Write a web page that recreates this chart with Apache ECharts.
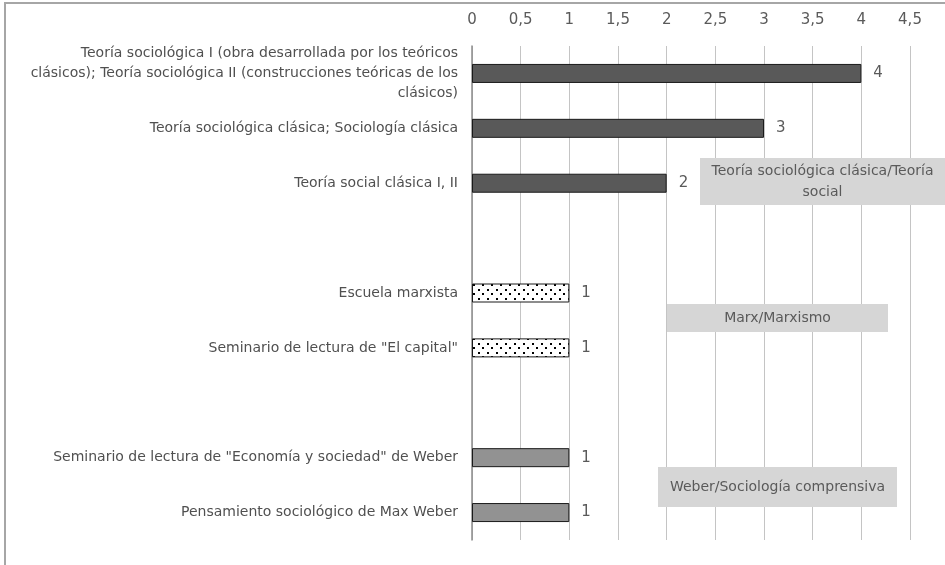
<!DOCTYPE html>
<html>
<head>
<meta charset="utf-8">
<script src="https://cdn.jsdelivr.net/npm/echarts@6/dist/echarts.min.js"></script>
<style>
  html, body { margin: 0; padding: 0; background: #fff; }
  #chart { width: 945px; height: 565px; }
</style>
</head>
<body>
<div id="chart"></div>
<script>
// Courses by thematic block (number of courses)
const categories = [
  'Teoría sociológica I (obra desarrollada por los teóricos\nclásicos); Teoría sociológica II (construcciones teóricas de los\nclásicos)',
  'Teoría sociológica clásica; Sociología clásica',
  'Teoría social clásica I, II',
  ' ',
  'Escuela marxista',
  'Seminario de lectura de "El capital"',
  '  ',
  'Seminario de lectura de "Economía y sociedad" de Weber',
  'Pensamiento sociológico de Max Weber'
];
const classicValues = [4, 3, 2, null, null, null, null, null, null];
const marxValues    = [null, null, null, null, 1, 1, null, null, null];
const weberValues   = [null, null, null, null, null, null, null, 1, 1];
const groupLabels = [
  'Teoría sociológica clásica/Teoría\nsocial',
  'Marx/Marxismo',
  'Weber/Sociología comprensiva'
];
const axisMin = 0, axisMax = 4.5, axisStep = 0.5;

const FONT = '"DejaVu Sans", sans-serif';
const TXT = '#5a5a5a';

// Dotted fill used for the Marx block
function dotPattern() {
  const c = document.createElement('canvas');
  c.width = 9; c.height = 9;
  const g = c.getContext('2d');
  g.fillStyle = '#ffffff';
  g.fillRect(0, 0, 9, 9);
  g.fillStyle = '#000000';
  g.fillRect(1, 1, 2, 2);
  g.fillRect(5, 5, 2, 2);
  return c;
}

const valueLabel = {
  show: true, position: 'right', distance: 12,
  color: TXT, fontFamily: FONT, fontSize: 15
};

function barSeries(data, fill) {
  return {
    type: 'bar', stack: 'all', data: data,
    barWidth: 19,
    itemStyle: { color: fill, borderColor: '#1a1a1a', borderWidth: 1 },
    label: valueLabel,
    animation: false
  };
}

const chart = echarts.init(document.getElementById('chart'), null, { renderer: 'canvas' });

function boxText(x, y, w, h, text) {
  return {
    type: 'group', left: x, top: y, z: 100,
    children: [
      { type: 'rect', z: 100, shape: { x: 0, y: 0, width: w, height: h }, style: { fill: '#d6d6d6' } },
      { type: 'text', z: 101, x: w / 2, y: h / 2,
        style: { text: text, fill: TXT, fontFamily: FONT, fontSize: 14, align: 'center', verticalAlign: 'middle', lineHeight: 21 } }
    ]
  };
}

chart.setOption({
  backgroundColor: '#ffffff',
  animation: false,
  grid: { left: 472, right: 35, top: 46, bottom: 25, containLabel: false },
  xAxis: {
    type: 'value', position: 'top',
    min: axisMin, max: axisMax, interval: axisStep,
    axisLine: { show: false },
    axisTick: { show: false },
    axisLabel: {
      margin: 18, color: TXT, fontFamily: FONT, fontSize: 15,
      formatter: v => String(v).replace('.', ',')
    },
    splitLine: { show: true, lineStyle: { color: '#c4c4c4', width: 1 } }
  },
  yAxis: {
    type: 'category', inverse: true, data: categories,
    axisLine: { show: true, lineStyle: { color: '#8c8c8c', width: 1.5 } },
    axisTick: { show: false },
    axisLabel: {
      margin: 14, color: '#505050', fontFamily: FONT, fontSize: 14,
      lineHeight: 20, align: 'right'
    }
  },
  series: [
    barSeries(classicValues, '#595959'),
    barSeries(marxValues, { image: dotPattern(), repeat: 'repeat' }),
    barSeries(weberValues, '#929292')
  ],
  graphic: [
    { type: 'line', shape: { x1: 4, y1: 3, x2: 945, y2: 3 }, style: { stroke: '#a6a6a6', lineWidth: 2 } },
    { type: 'line', shape: { x1: 5, y1: 3, x2: 5, y2: 565 }, style: { stroke: '#a6a6a6', lineWidth: 2 } },
    boxText(700, 158, 245, 47, groupLabels[0]),
    boxText(667, 304, 221, 28, groupLabels[1]),
    boxText(658, 467, 239, 40, groupLabels[2])
  ]
});
</script>
</body>
</html>
